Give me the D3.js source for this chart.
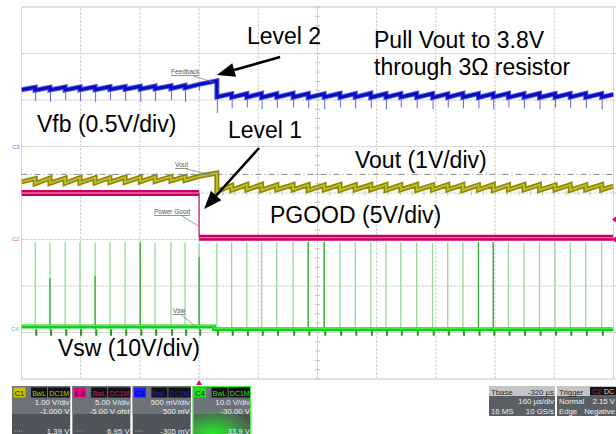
<!DOCTYPE html>
<html>
<head>
<meta charset="utf-8">
<script src="https://cdn.jsdelivr.net/npm/d3@7"></script>
<style>
body { margin: 0; background: #fff; }
svg { display: block; font-family: "Liberation Sans", Arial, sans-serif; }
</style>
</head>
<body>
<div id="chart"></div>
<script>
// time window in µs, trigger at 0 (160 µs/div, 10 div)
var timeDomain = [-480, 1120];
// switching events
var switchTimes = [-443, -403, -362, -322, -281, -241, -200, -159, -119, -76, -38, 0, 48,
    88, 129, 169, 210, 254, 295, 338, 381, 422, 464, 505, 545, 588, 631, 672, 713,
    755, 795, 836, 878, 920, 962, 1003, 1045, 1088];

// Vfb (V): value at start and end of each ramp between switch events
var vfbStart = [0.610, 0.606, 0.607, 0.609, 0.610, 0.611, 0.613, 0.615, 0.617, 0.620, 0.623, 0.630, 0.668,
    0.532, 0.528, 0.530, 0.527, 0.531, 0.529, 0.526, 0.530, 0.528, 0.531, 0.527, 0.529, 0.530,
    0.528, 0.526, 0.530, 0.529, 0.527, 0.531, 0.528, 0.530, 0.527, 0.529, 0.531, 0.528, 0.530];
var vfbPeak = [0.636, 0.637, 0.639, 0.640, 0.641, 0.643, 0.645, 0.647, 0.650, 0.653, 0.658, 0.668, 0.706,
    0.566, 0.568, 0.570, 0.567, 0.571, 0.569, 0.566, 0.570, 0.568, 0.572, 0.567, 0.569, 0.570,
    0.568, 0.566, 0.571, 0.569, 0.567, 0.571, 0.568, 0.570, 0.567, 0.569, 0.571, 0.568, 0.560];
var vfbSpike = [0.49, 0.48, 0.50, 0.49, 0.48, 0.50, 0.49, 0.48, 0.49, 0.50, 0.48, 0.60, 0.36,
    0.41, 0.42, 0.40, 0.41, 0.42, 0.41, 0.40, 0.42, 0.41, 0.41, 0.40, 0.42, 0.41, 0.40,
    0.42, 0.41, 0.41, 0.40, 0.42, 0.41, 0.40, 0.42, 0.41, 0.41, 0.40];

// Vout (V)
var voutStart = [3.24, 3.20, 3.21, 3.21, 3.22, 3.22, 3.23, 3.23, 3.24, 3.25, 3.26, 3.27, 3.36,
    3.03, 3.06, 3.07, 3.06, 3.07, 3.07, 3.06, 3.07, 3.06, 3.07, 3.07, 3.06, 3.07,
    3.06, 3.07, 3.07, 3.06, 3.07, 3.06, 3.07, 3.07, 3.06, 3.07, 3.06, 3.07, 3.07];
var voutPeak = [3.31, 3.32, 3.32, 3.33, 3.33, 3.33, 3.34, 3.34, 3.35, 3.35, 3.35, 3.36, 3.43,
    3.16, 3.18, 3.18, 3.17, 3.18, 3.18, 3.17, 3.18, 3.17, 3.18, 3.18, 3.17, 3.18,
    3.17, 3.18, 3.18, 3.17, 3.18, 3.17, 3.18, 3.18, 3.17, 3.18, 3.17, 3.18, 3.15];
var voutRef = 3.40;

// PGOOD (V): levels between transitions
var pgoodTimes = [-480, 0, 1120];
var pgoodLevels = [5.0, 0.2];

// Vsw (V)
var vswBaseTimes = [-480, 40, 1120];
var vswBaseLevels = [0.6, 0.0];
var vswPeak = [18.7, 18.6, 18.7, 18.7, 18.6, 18.7, 18.7, 18.7, 18.6, 18.7, 18.7, 18.5, 18.7,
    18.7, 18.6, 18.7, 18.7, 18.7, 18.8, 18.8, 18.7, 18.7, 18.6, 18.7, 18.7, 18.7,
    18.6, 18.7, 18.7, 18.8, 18.7, 18.7, 18.6, 18.7, 18.7, 18.7, 18.7, 18.6];
var vswCore = [0, 11.0, 0, 0, 11.5, 0, 0, 18.7, 0, 0, 0, 15.5, 0,
    0, 0, 0, 0, 0, 18.8, 18.8, 0, 0, 0, 0, 0, 0,
    0, 0, 0, 18.8, 18.7, 0, 0, 0, 0, 0, 0, 0];
var vswRing = -1.4;

// channel info boxes
var chNames = ["C1", "C2", "C3", "C4"];
var chColors = ["#c9c200", "#e6007a", "#1c1cff", "#1de31d"];
var chScale = ["1.00 V/div", "5.00 V/div", "500 mV/div", "10.0 V/div"];
var chOffset = ["-1.000 V", "-5.00 V ofst", "500 mV", "-30.00 V"];
var chReadout = ["1.39 V", "6.95 V", "-305 mV", "33.9 V"];
var tbaseRows = [["Tbase", "-320 µs"], ["", "160 µs/div"], ["16 MS", "10 GS/s"]];
var trigRows = [["Trigger", ""], ["Normal", "2.15 V"], ["Edge", "Negative"]];

var W = 616, H = 434;
var svg = d3.select("#chart").append("svg").attr("width", W).attr("height", H);
svg.append("rect").attr("width", W).attr("height", H).attr("fill", "#fff");

var x = d3.scaleLinear().domain(timeDomain).range([21.5, 613.5]);
var div = d3.scaleLinear().domain([-4, 4]).range([379, 7]);

function chan(vdiv, zero) { return function (v) { return div(zero + v / vdiv); }; }
var yVfb = chan(0.5, 1.0), yVout = chan(1, -3), yPg = chan(5, -1), ySw = chan(10, -2.93);

// grid
var grid = svg.append("g").attr("stroke", "#cfcfcf").attr("stroke-dasharray", "3,1");
grid.selectAll(".v").data(d3.range(0, 11)).enter().append("line")
    .attr("x1", function (i) { return x(timeDomain[0] + i * 160); })
    .attr("x2", function (i) { return x(timeDomain[0] + i * 160); })
    .attr("y1", div(-4)).attr("y2", div(4));
grid.selectAll(".h").data(d3.range(-4, 5)).enter().append("line")
    .attr("x1", x(timeDomain[0])).attr("x2", W)
    .attr("y1", function (d) { return div(d); }).attr("y2", function (d) { return div(d); });
svg.append("line").attr("x1", x(timeDomain[0])).attr("x2", W).attr("y1", div(4)).attr("y2", div(4)).attr("stroke", "#d4d4d4");
svg.append("line").attr("x1", x(timeDomain[0])).attr("x2", x(timeDomain[0])).attr("y1", div(4)).attr("y2", div(-4)).attr("stroke", "#d4d4d4");
svg.append("line").attr("x1", x(timeDomain[0])).attr("x2", x(timeDomain[1])).attr("y1", div(-4)).attr("y2", div(-4)).attr("stroke", "#d4d4d4");

// centre axis minor ticks
var ticks = svg.append("g").attr("stroke", "#c4c4c4");
ticks.selectAll(".tv").data(d3.range(-20, 21)).enter().append("line")
    .attr("x1", x(320) - 2.5).attr("x2", x(320) + 2.5)
    .attr("y1", function (d) { return div(d / 5); }).attr("y2", function (d) { return div(d / 5); });
ticks.selectAll(".th").data(d3.range(0, 51)).enter().append("line")
    .attr("y1", div(0) - 2.5).attr("y2", div(0) + 2.5)
    .attr("x1", function (d) { return x(timeDomain[0] + d * 32); })
    .attr("x2", function (d) { return x(timeDomain[0] + d * 32); });

svg.append("clipPath").attr("id", "plot").append("rect")
    .attr("x", x(timeDomain[0])).attr("y", div(4)).attr("width", x(timeDomain[1]) - x(timeDomain[0])).attr("height", div(-4) - div(4));
var plot = svg.append("g").attr("clip-path", "url(#plot)");

var edges = [timeDomain[0]].concat(switchTimes, [timeDomain[1]]);
function sawPoints(start, peak) {
    var pts = [];
    for (var i = 0; i < start.length; i++) {
        pts.push([edges[i], start[i]]);
        pts.push([edges[i + 1], peak[i]]);
    }
    return pts;
}
function stepPoints(ts, levels) {
    var pts = [];
    levels.forEach(function (v, i) { pts.push([ts[i], v]); pts.push([ts[i + 1], v]); });
    return pts;
}

// Vsw
var sw = plot.append("g");
sw.selectAll(".pulse").data(switchTimes).enter().append("line")
    .attr("x1", function (t) { return x(t); }).attr("x2", function (t) { return x(t); })
    .attr("y1", function (t) { return ySw(t < 40 ? vswBaseLevels[0] : vswBaseLevels[1]); })
    .attr("y2", function (t, i) { return ySw(vswPeak[i]); })
    .attr("stroke", "#96da96").attr("stroke-width", 1.3);
sw.selectAll(".core").data(switchTimes).enter().append("line")
    .attr("x1", function (t) { return x(t); }).attr("x2", function (t) { return x(t); })
    .attr("y1", function (t) { return ySw(0); })
    .attr("y2", function (t, i) { return ySw(vswCore[i]); })
    .attr("stroke", "#3aae3a").attr("stroke-width", function (t, i) { return vswCore[i] > 0 ? 1.3 : 0; });
sw.selectAll(".ring").data(switchTimes).enter().append("line")
    .attr("x1", function (t) { return x(t + 3); }).attr("x2", function (t) { return x(t + 3); })
    .attr("y1", ySw(0)).attr("y2", ySw(vswRing))
    .attr("stroke", "#1f9a1f").attr("stroke-width", 2);
sw.append("path").datum(stepPoints(vswBaseTimes, vswBaseLevels))
    .attr("d", d3.line().x(function (d) { return x(d[0]); }).y(function (d) { return ySw(d[1]); }))
    .attr("fill", "none").attr("stroke", "#14d014").attr("stroke-width", 4);
sw.append("path").datum(stepPoints(vswBaseTimes, vswBaseLevels))
    .attr("d", d3.line().x(function (d) { return x(d[0]); }).y(function (d) { return ySw(d[1]) - 1; }))
    .attr("fill", "none").attr("stroke", "#5cf05c").attr("stroke-width", 1);

// PGOOD
var pg = plot.append("g");
pgoodLevels.forEach(function (v, i) {
    pg.append("line").attr("x1", x(pgoodTimes[i])).attr("x2", x(pgoodTimes[i + 1]))
        .attr("y1", yPg(v)).attr("y2", yPg(v)).attr("stroke", "#c9005f").attr("stroke-width", 6);
    pg.append("line").attr("x1", x(pgoodTimes[i])).attr("x2", x(pgoodTimes[i + 1]))
        .attr("y1", yPg(v)).attr("y2", yPg(v)).attr("stroke", "#ee6aa6").attr("stroke-width", 1.3);
    if (i > 0) {
        pg.append("line").attr("x1", x(pgoodTimes[i])).attr("x2", x(pgoodTimes[i]))
            .attr("y1", yPg(pgoodLevels[i - 1])).attr("y2", yPg(v))
            .attr("stroke", "#d0106a").attr("stroke-width", 1.2);
    }
});

// Vout
var voutLine = d3.line().x(function (d) { return x(d[0]); }).y(function (d) { return yVout(d[1]); });
plot.append("path").datum(sawPoints(voutStart, voutPeak)).attr("d", voutLine)
    .attr("fill", "none").attr("stroke", "#8d8800").attr("stroke-width", 5);
plot.append("path").datum(sawPoints(voutStart, voutPeak)).attr("d", voutLine)
    .attr("fill", "none").attr("stroke", "#c6bc30").attr("stroke-width", 1.8);
plot.append("line").attr("x1", x(timeDomain[0])).attr("x2", x(timeDomain[1]))
    .attr("y1", yVout(voutRef)).attr("y2", yVout(voutRef))
    .attr("stroke", "#8a8a8a").attr("stroke-dasharray", "6,3,1,3");

// Vfb
var vfbLine = d3.line().x(function (d) { return x(d[0]); }).y(function (d) { return yVfb(d[1]); });
plot.selectAll(".spike").data(switchTimes).enter().append("line")
    .attr("x1", function (t) { return x(t) + 0.5; }).attr("x2", function (t) { return x(t) + 0.5; })
    .attr("y1", function (t, i) { return yVfb(vfbStart[i + 1]); })
    .attr("y2", function (t, i) { return yVfb(vfbSpike[i]); })
    .attr("stroke", "#5a68e0").attr("stroke-width", 1);
plot.append("path").datum(sawPoints(vfbStart, vfbPeak)).attr("d", vfbLine)
    .attr("fill", "none").attr("stroke", "#4d5ce6").attr("stroke-width", 5);
plot.append("path").datum(sawPoints(vfbStart, vfbPeak)).attr("d", vfbLine)
    .attr("fill", "none").attr("stroke", "#0c0cbe").attr("stroke-width", 3);

// ground / trigger markers
svg.append("text").attr("x", 12).attr("y", yVfb(0) + 2).attr("font-size", 6).attr("fill", "#7070f0").text("C3");
svg.append("text").attr("x", 12).attr("y", yPg(0) + 1).attr("font-size", 6).attr("fill", "#f0609c").text("C2");
svg.append("text").attr("x", 11).attr("y", ySw(0) + 2).attr("font-size", 6).attr("fill", "#40e040").text("C4");
[2.15, 0].forEach(function (v) {
    var yy = yPg(v);
    svg.append("path").attr("d", "M" + (W - 4) + "," + yy + "L" + W + "," + (yy - 3) + "L" + W + "," + (yy + 3) + "Z").attr("fill", "#e6007a");
});
svg.append("path").attr("d", "M" + x(0) + "," + (div(-4) + 1) + "l-3,5h6z").attr("fill", "#e6007a");

// small scope labels with leader lines
function tag(label, tx, ty, t, v, yf) {
    svg.append("text").attr("x", tx).attr("y", ty).attr("font-size", 6.5).attr("fill", "#555")
        .attr("text-decoration", "underline").text(label);
    svg.append("line").attr("x1", tx + label.length * 2.8).attr("y1", ty + 2)
        .attr("x2", x(t)).attr("y2", yf(v)).attr("stroke", "#777").attr("stroke-width", 0.7);
}
tag("Feedback", 171, 74, 40, 0.69, yVfb);
tag("Vout", 175, 167, 30, 3.40, yVout);
tag("Power Good", 154, 214, 0, 1.4, yPg);
tag("Vsw", 173, 313, -10, 0.6, ySw);

// annotations
var note = svg.append("g").attr("font-size", 23).attr("fill", "#000");
note.append("text").attr("x", 247).attr("y", 44).text("Level 2");
note.append("text").attr("x", 374).attr("y", 48).text("Pull Vout to 3.8V");
note.append("text").attr("x", 374).attr("y", 75).text("through 3Ω resistor");
note.append("text").attr("x", 37).attr("y", 132).text("Vfb (0.5V/div)");
note.append("text").attr("x", 228).attr("y", 138).text("Level 1");
note.append("text").attr("x", 355).attr("y", 168).text("Vout (1V/div)");
note.append("text").attr("x", 270).attr("y", 223).text("PGOOD (5V/div)");
note.append("text").attr("x", 58).attr("y", 356).text("Vsw (10V/div)");

function arrow(x1, y1, x2, y2) {
    var a = Math.atan2(y2 - y1, x2 - x1), L = 18, hw = 7;
    var bx = x2 - L * Math.cos(a), by = y2 - L * Math.sin(a);
    svg.append("line").attr("x1", x1).attr("y1", y1).attr("x2", bx).attr("y2", by)
        .attr("stroke", "#000").attr("stroke-width", 2.5);
    svg.append("path").attr("d", "M" + x2 + "," + y2 +
        "L" + (bx + hw * Math.sin(a)) + "," + (by - hw * Math.cos(a)) +
        "L" + (bx - hw * Math.sin(a)) + "," + (by + hw * Math.cos(a)) + "Z").attr("fill", "#000");
}
arrow(x(219), yVfb(0.962), x(48), yVfb(0.77));
arrow(x(162), yPg(9.84), x(13.5), yPg(3.28));

// channel boxes
var band = d3.scaleBand().domain(chNames).range([12, 251]).paddingInner(0.03);
var defs = svg.append("defs");
var glow = defs.append("radialGradient").attr("id", "glow").attr("cx", "0.35").attr("cy", "1").attr("r", "0.75");
glow.append("stop").attr("offset", "0").attr("stop-color", "#22ee22").attr("stop-opacity", 1);
glow.append("stop").attr("offset", "1").attr("stop-color", "#22ee22").attr("stop-opacity", 0);

chNames.forEach(function (name, i) {
    var w = band.bandwidth();
    var g = svg.append("g").attr("transform", "translate(" + band(name) + ",386)");
    defs.append("clipPath").attr("id", "bc" + i).append("rect").attr("width", w).attr("height", 48);
    var b = g.append("g").attr("clip-path", "url(#bc" + i + ")").attr("font-size", 7.8);
    b.append("rect").attr("width", w).attr("height", 48).attr("fill", "#4f545b");
    b.append("rect").attr("width", w).attr("height", 28).attr("fill", "#6d7279");
    if (name === "C4") b.append("rect").attr("y", 14).attr("width", w).attr("height", 34).attr("fill", "url(#glow)");
    b.append("rect").attr("x", 1.5).attr("y", 1.5).attr("width", 12).attr("height", 10).attr("fill", chColors[i]);
    b.append("text").attr("x", 7.5).attr("y", 9.8).attr("text-anchor", "middle").attr("font-size", 7.5)
        .attr("fill", name === "C3" ? "#000070" : "#111").text(name);
    b.append("rect").attr("x", 19).attr("y", 1.5).attr("width", 16).attr("height", 10).attr("fill", "#111");
    b.append("text").attr("x", 27).attr("y", 9.5).attr("text-anchor", "middle").attr("font-size", 7)
        .attr("fill", chColors[i]).text("BwL");
    b.append("rect").attr("x", 36).attr("y", 1.5).attr("width", w - 36).attr("height", 10).attr("fill", "#111");
    b.append("text").attr("x", 36 + (w - 36) / 2).attr("y", 9.5).attr("text-anchor", "middle").attr("font-size", 7)
        .attr("fill", chColors[i]).text("DC1M");
    b.append("text").attr("x", w - 1).attr("y", 19).attr("text-anchor", "end").attr("fill", "#ececec").text(chScale[i]);
    b.append("text").attr("x", w - 1).attr("y", 27.5).attr("text-anchor", "end").attr("fill", "#ececec").text(chOffset[i]);
    b.append("text").attr("x", w - 1).attr("y", 47.5).attr("text-anchor", "end").attr("fill", "#ececec").text(chReadout[i]);
    b.append("line").attr("x1", 3).attr("x2", 11).attr("y1", 45).attr("y2", 45)
        .attr("stroke", "#9aa0a6").attr("stroke-dasharray", "1,1");
    if (name === "C4") g.append("rect").attr("x", 0.5).attr("y", 0.5).attr("width", w - 1).attr("height", 48)
        .attr("fill", "none").attr("stroke", "#3cf03c");
});

// timebase / trigger boxes
function infoBox(x0, w, rows, idx) {
    var g = svg.append("g").attr("transform", "translate(" + x0 + ",386)");
    defs.append("clipPath").attr("id", "ib" + idx).append("rect").attr("width", w).attr("height", 30);
    var b = g.append("g").attr("clip-path", "url(#ib" + idx + ")").attr("font-size", 7.8);
    b.append("rect").attr("width", w).attr("height", 30).attr("fill", "#5a5f66");
    b.append("rect").attr("width", w).attr("height", 10).attr("fill", "#c4c4c4");
    rows.forEach(function (r, j) {
        var c = j === 0 ? "#2a2a2a" : "#ececec";
        b.append("text").attr("x", 2).attr("y", 8.5 + j * 9.5).attr("fill", c).text(r[0]);
        b.append("text").attr("x", w - 1).attr("y", 8.5 + j * 9.5).attr("text-anchor", "end").attr("fill", c).text(r[1]);
    });
    return b;
}
infoBox(489, 66, tbaseRows, 0);
var tb = infoBox(557, 59, trigRows, 1);
tb.append("rect").attr("x", 33).attr("y", 1).attr("width", 26).attr("height", 8.5).attr("fill", "#111");
tb.append("text").attr("x", 35).attr("y", 8.3).attr("font-size", 7).attr("fill", "#e6007a").text("C2");
tb.append("text").attr("x", 47).attr("y", 8.3).attr("font-size", 7).attr("fill", "#ddd").text("DC");
</script>
</body>
</html>
